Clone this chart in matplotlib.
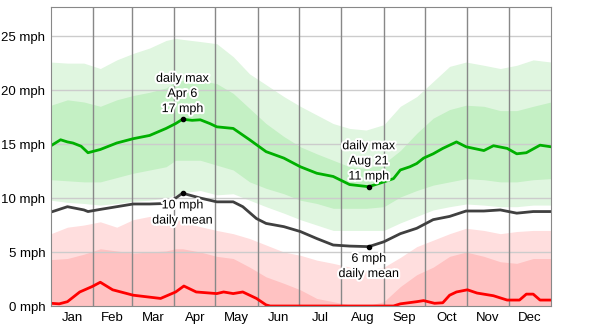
import matplotlib

matplotlib.use("Agg")
import matplotlib.pyplot as plt
import matplotlib.patheffects as pe

plt.rcParams["font.family"] = ["Liberation Sans", "DejaVu Sans"]

MONTHS = ["Jan", "Feb", "Mar", "Apr", "May", "Jun", "Jul", "Aug", "Sep", "Oct", "Nov", "Dec"]
MONTH_EDGES = [0, 31, 59, 90, 120, 151, 181, 212, 243, 273, 304, 334, 365]

# percentile bands (day of year -> mph)
BAND_DAYS = [0, 12, 24, 36, 48, 60, 72, 84, 91, 96, 109, 121, 133, 145, 157, 170,
             182, 194, 206, 218, 230, 243, 255, 267, 279, 291, 303, 316, 328, 340, 352, 365]
MAX_P90 = [22.6, 22.5, 22.5, 22.0, 22.8, 23.4, 23.9, 24.6, 24.8, 24.7, 24.5, 24.3, 23.1, 21.5, 20.5, 19.4,
           18.5, 17.7, 16.9, 16.45, 16.3, 16.8, 18.5, 19.4, 20.8, 22.2, 22.6, 22.3, 22.0, 22.3, 22.8, 22.6]
MAX_P75 = [18.6, 19.1, 18.9, 18.5, 19.1, 19.5, 19.8, 20.2, 20.8, 20.9, 20.9, 20.6, 19.7, 18.3, 16.9, 15.7,
           14.75, 14.1, 13.5, 12.9, 12.75, 13.2, 14.4, 16.0, 17.4, 18.2, 18.6, 18.5, 18.1, 18.1, 18.5, 18.9]
MAX_P25 = [11.7, 11.6, 11.5, 11.5, 11.9, 12.3, 12.6, 12.9, 13.5, 13.5, 13.5, 13.05, 12.6, 11.5, 10.9, 10.4,
           9.8, 9.5, 9.05, 9.05, 9.05, 9.2, 10.1, 10.7, 11.2, 11.5, 11.8, 11.7, 11.5, 11.5, 11.7, 11.8]
MAX_P10 = [9.8, 9.6, 9.5, 9.35, 9.5, 9.7, 9.8, 10.0, 10.3, 10.5, 10.7, 10.3, 10.4, 9.8, 9.2, 8.6,
           8.0, 7.5, 7.0, 7.0, 7.0, 7.0, 7.7, 8.3, 8.9, 9.2, 9.45, 9.35, 9.2, 9.2, 9.35, 9.35]
MIN_P90 = [6.7, 7.3, 7.5, 7.8, 7.3, 8.0, 8.3, 8.2, 8.1, 7.8, 7.35, 7.0, 6.7, 6.25, 5.65, 5.0,
           4.7, 4.25, 3.95, 3.6, 3.3, 3.6, 4.5, 5.5, 6.1, 6.7, 7.2, 7.0, 6.7, 6.9, 7.0, 7.0]
MIN_P75 = [4.3, 4.4, 4.8, 5.3, 5.1, 4.9, 5.0, 5.1, 5.3, 5.3, 5.0, 4.6, 4.4, 3.6, 2.7, 2.1,
           1.5, 0.7, 0.4, 0.1, 0.0, 0.4, 1.8, 2.9, 3.6, 4.6, 5.0, 4.6, 4.1, 3.95, 4.4, 4.4]

# median daily max
MAX_DAYS = [0, 7, 12, 16, 22, 27, 36, 48, 60, 72, 84, 91, 96, 103, 109, 116, 121, 133, 145, 157, 170,
            182, 194, 206, 218, 232, 243, 250, 255, 262, 267, 272, 279, 286, 296, 303, 316, 323, 333,
            340, 347, 357, 365]
MAX_MED = [14.85, 15.4, 15.2, 15.1, 14.8, 14.2, 14.5, 15.1, 15.5, 15.8, 16.45, 16.9, 17.3, 17.2, 17.25,
           16.9, 16.6, 16.45, 15.4, 14.3, 13.7, 12.9, 12.3, 12.0, 11.25, 11.05, 11.5, 11.8, 12.6, 12.9,
           13.2, 13.7, 14.1, 14.6, 15.2, 14.75, 14.4, 14.85, 14.6, 14.1, 14.2, 14.9, 14.75]

# daily mean
MEAN_DAYS = [0, 12, 24, 27, 36, 48, 60, 72, 84, 91, 96, 109, 121, 133, 140, 150, 157, 170, 182, 194,
             206, 218, 232, 243, 255, 267, 279, 291, 303, 316, 328, 340, 352, 365]
MEAN = [8.7, 9.2, 8.9, 8.75, 8.95, 9.2, 9.45, 9.45, 9.5, 10.0, 10.45, 10.0, 9.65, 9.65, 9.2, 8.1, 7.65,
        7.35, 6.9, 6.25, 5.65, 5.55, 5.5, 5.95, 6.7, 7.2, 8.0, 8.3, 8.8, 8.8, 8.9, 8.6, 8.75, 8.75]

# median daily min
MIN_DAYS = [0, 6, 12, 21, 30, 36, 45, 60, 80, 91, 97, 106, 121, 126, 133, 140, 150, 157, 160, 250,
            255, 267, 272, 280, 286, 291, 296, 304, 311, 323, 333, 342, 347, 352, 357, 365]
MIN_MED = [0.25, 0.2, 0.4, 1.3, 1.8, 2.2, 1.5, 1.0, 0.7, 1.3, 1.85, 1.3, 1.15, 1.3, 1.15, 1.3, 0.7, 0.1,
           0.0, 0.0, 0.2, 0.4, 0.5, 0.25, 0.3, 1.0, 1.3, 1.5, 1.2, 0.95, 0.55, 0.55, 1.1, 1.1, 0.55, 0.55]

# annotated extremes
HI_DAY, HI_LABEL = 96, "Apr 6"
LO_DAY, LO_LABEL = 232, "Aug 21"


def value_at(days, vals, d):
    return vals[days.index(d)]


fig = plt.figure(figsize=(6.0, 3.29), dpi=100)
ax = fig.add_axes([51 / 600, 23 / 329, 500 / 600, 299 / 329])

ax.fill_between(BAND_DAYS, MAX_P10, MAX_P90, color="#e0f6e0", lw=0, zorder=1)
ax.fill_between(BAND_DAYS, MAX_P25, MAX_P75, color="#c4f0c4", lw=0, zorder=1.1)
ax.fill_between(BAND_DAYS, 0, MIN_P90, color="#ffdede", lw=0, zorder=1)
ax.fill_between(BAND_DAYS, 0, MIN_P75, color="#ffc2c2", lw=0, zorder=1.1)

for y in range(5, 30, 5):
    ax.axhline(y, color="#cccccc", lw=1, zorder=2)
for d in MONTH_EDGES[1:-1]:
    ax.axvline(d, color="#888888", lw=1, zorder=2)

ax.plot(MAX_DAYS, MAX_MED, color="#00b000", lw=2, zorder=3)
ax.plot(MEAN_DAYS, MEAN, color="#404040", lw=2, zorder=3)
ax.plot(MIN_DAYS, MIN_MED, color="#ff0000", lw=2, zorder=3)

halo = [pe.withStroke(linewidth=3, foreground="white")]
txt = dict(ha="center", fontsize=9, linespacing=1.35, path_effects=halo, zorder=5,
           textcoords="offset points")

hi_max = value_at(MAX_DAYS, MAX_MED, HI_DAY)
hi_mean = value_at(MEAN_DAYS, MEAN, HI_DAY)
lo_max = value_at(MAX_DAYS, MAX_MED, LO_DAY)
lo_mean = value_at(MEAN_DAYS, MEAN, LO_DAY)

ax.plot([HI_DAY, HI_DAY, LO_DAY, LO_DAY], [hi_max, hi_mean, lo_max, lo_mean], "o",
        color="black", ms=3, zorder=4)
ax.annotate(f"daily max\n{HI_LABEL}\n{hi_max:.0f} mph", (HI_DAY, hi_max), xytext=(0, 3), va="bottom", **txt)
ax.annotate(f"{hi_mean:.0f} mph\ndaily mean", (HI_DAY, hi_mean), xytext=(0, -4.5), va="top", **txt)
ax.annotate(f"daily max\n{LO_LABEL}\n{lo_max:.0f} mph", (LO_DAY, lo_max), xytext=(0, 3), va="bottom", **txt)
ax.annotate(f"{lo_mean:.0f} mph\ndaily mean", (LO_DAY, lo_mean), xytext=(0, -4.5), va="top", **txt)

ax.set_xlim(0, 365)
ax.set_ylim(0, 27.7)
centers = [(a + b) / 2 for a, b in zip(MONTH_EDGES[:-1], MONTH_EDGES[1:])]
ax.set_xticks(centers)
ax.set_xticklabels(MONTHS)
ax.set_yticks(range(0, 30, 5))
ax.set_yticklabels([f"{v} mph" for v in range(0, 30, 5)])
ax.tick_params(length=0, labelsize=9.5, colors="black", pad=4)
for s in ax.spines.values():
    s.set_color("#888888")
    s.set_zorder(6)

fig.savefig("out.png", dpi=100)
